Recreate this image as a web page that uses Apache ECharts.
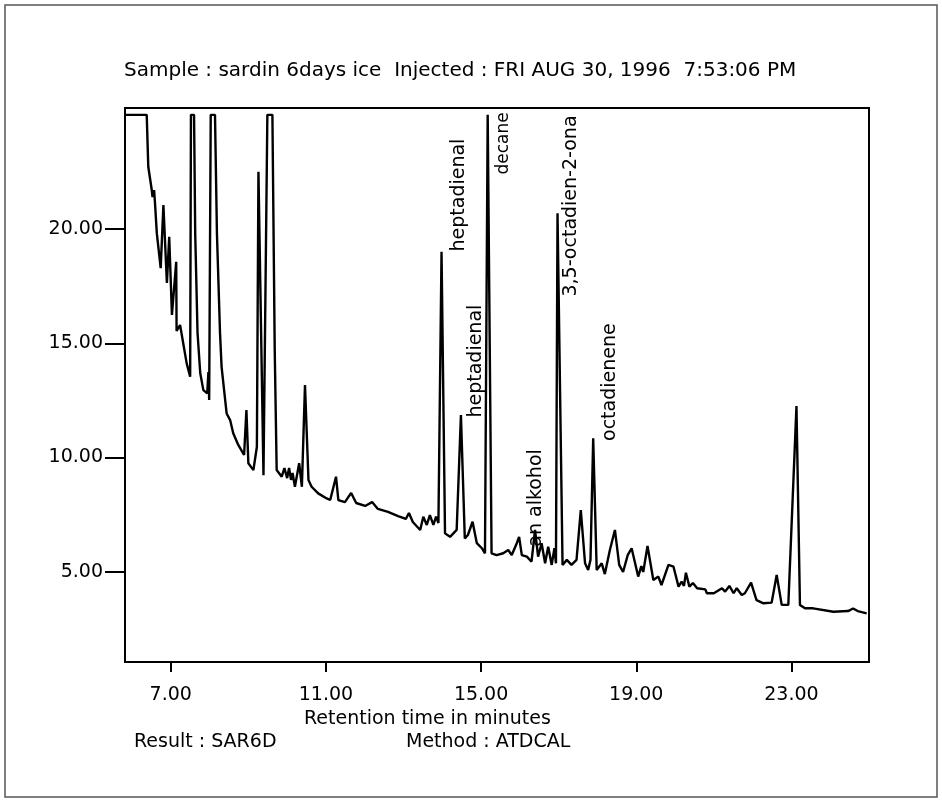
<!DOCTYPE html>
<html>
<head>
<meta charset="utf-8">
<script src="https://cdn.jsdelivr.net/npm/echarts@6/dist/echarts.min.js"></script>
<style>
html,body{margin:0;padding:0;background:#fff;}
#chart{width:942px;height:803px;}
</style>
</head>
<body>
<div id="chart"></div>
<script>
// Retention time (minutes)
const retentionTime = [
5.82,6.38,6.42,6.51,6.53,6.57,6.59,6.64,6.74,6.81,6.90,6.96,7.03,7.14,7.15,7.24,7.41,7.50,7.52,7.60,
7.63,7.69,7.76,7.84,7.94,7.97,7.99,8.03,8.14,8.19,8.27,8.31,8.44,8.53,8.61,8.74,8.89,8.95,9.00,9.13,
9.22,9.26,9.39,9.49,9.62,9.68,9.73,9.86,9.93,10.00,10.05,10.10,10.14,10.20,10.31,10.38,10.46,10.55,10.63,10.80,
11.02,11.11,11.26,11.32,11.49,11.65,11.78,12.01,12.19,12.34,12.60,12.86,13.06,13.14,13.24,13.43,13.51,13.60,13.68,13.77,
13.84,13.90,13.98,14.07,14.20,14.37,14.48,14.58,14.66,14.78,14.89,15.02,15.10,15.17,15.27,15.40,15.57,15.70,15.79,15.92,
15.98,16.05,16.18,16.30,16.39,16.47,16.56,16.65,16.73,16.82,16.89,16.93,16.97,17.10,17.21,17.33,17.46,17.57,17.68,17.76,
17.82,17.89,17.98,18.11,18.19,18.32,18.45,18.56,18.66,18.78,18.88,19.05,19.13,19.18,19.29,19.44,19.57,19.65,19.83,19.96,
20.09,20.17,20.23,20.28,20.37,20.46,20.57,20.78,20.82,21.00,21.21,21.29,21.40,21.51,21.59,21.72,21.80,21.96,22.10,22.28,
22.49,22.62,22.75,22.92,23.13,23.22,23.35,23.56,24.08,24.46,24.59,24.71,24.94
];
// Detector response
const response = [
25.0,25.0,22.73,21.71,21.40,21.71,21.23,19.82,18.29,21.05,17.64,19.66,16.24,18.57,15.54,15.80,14.12,13.54,25.0,25.0,
19.81,15.45,13.69,12.95,12.81,13.74,12.52,25.0,25.0,19.81,15.44,13.97,11.93,11.64,11.06,10.55,10.11,12.08,9.75,9.45,
10.47,22.51,9.23,25.0,25.0,14.70,9.45,9.16,9.54,9.10,9.54,9.02,9.32,8.72,9.75,8.72,13.17,9.02,8.72,8.43,
8.21,8.14,9.16,8.14,8.05,8.45,8.01,7.88,8.05,7.75,7.62,7.44,7.31,7.57,7.18,6.83,7.41,7.05,7.48,7.05,
7.41,7.13,19.01,6.68,6.53,6.83,11.86,6.46,6.61,7.19,6.25,6.03,5.81,25.0,5.81,5.73,5.81,5.95,5.73,6.25,
6.53,5.73,5.66,5.44,6.83,5.66,6.25,5.37,6.10,5.30,6.03,5.37,20.69,5.30,5.52,5.30,5.52,7.70,5.37,5.08,
5.52,10.84,5.08,5.37,4.90,5.95,6.83,5.30,4.99,5.73,6.03,4.79,5.25,4.99,6.13,4.64,4.79,4.42,5.30,5.22,
4.35,4.57,4.38,4.96,4.35,4.51,4.28,4.23,4.06,4.06,4.28,4.13,4.38,4.06,4.28,3.98,4.06,4.52,3.76,3.62,
3.65,4.86,3.55,3.55,12.25,3.55,3.40,3.40,3.25,3.28,3.39,3.28,3.18
];
// Peak annotations (label centre position in data units)
const peakNames = ["heptadienal","heptadienal","decane","an alkohol","3,5-octadien-2-ona","octadienene"];
const peakLabelX = [14.43,14.88,15.59,16.41,17.33,18.33];
const peakLabelY = [21.49,14.22,23.75,8.23,21.01,13.30];
// Tick labels
const xTicks = [7,11,15,19,23];
const yTicks = [5,10,15,20];

const FONT = "'DejaVu Sans', sans-serif";
const trace = retentionTime.map((t,i)=>[t,response[i]]);
const labels = peakNames.map((n,i)=>({value:[peakLabelX[i],peakLabelY[i]],name:n,
  label: n==='decane' ? {fontSize:17} : undefined}));

const chart = echarts.init(document.getElementById('chart'));
chart.setOption({
  backgroundColor:'#fff',
  animation:false,
  grid:{left:125,right:73,top:108,bottom:141,show:true,borderColor:'#000',borderWidth:2,backgroundColor:'transparent'},
  xAxis:{
    type:'value',min:5.82,max:25.0,
    axisLine:{show:true,lineStyle:{color:'#000',width:2}},
    axisTick:{show:true,length:10,lineStyle:{color:'#000',width:2},customValues:xTicks},
    axisLabel:{show:true,color:'#000',fontSize:19,fontFamily:FONT,margin:24,customValues:xTicks,
      formatter:v=>v.toFixed(2)},
    splitLine:{show:false}
  },
  yAxis:{
    type:'value',min:1.05,max:25.3,
    axisLine:{show:true,lineStyle:{color:'#000',width:2}},
    axisTick:{show:true,length:20,lineStyle:{color:'#000',width:2},customValues:yTicks},
    axisLabel:{show:true,color:'#000',fontSize:19,fontFamily:FONT,margin:22,customValues:yTicks,
      formatter:v=>v.toFixed(2)},
    splitLine:{show:false}
  },
  series:[
    {type:'line',data:trace,symbol:'none',clip:true,
     lineStyle:{color:'#000',width:2.4},z:3},
    {type:'scatter',data:labels,symbolSize:0,z:4,itemStyle:{opacity:1},
     label:{show:true,position:'inside',rotate:90,formatter:p=>p.name,color:'#000',opacity:1,
       fontSize:19,fontFamily:FONT,align:'center',verticalAlign:'middle'}}
  ],
  graphic:[
    {type:'rect',shape:{x:5,y:5,width:932,height:792},style:{fill:'none',stroke:'#555',lineWidth:1.5},silent:true},
    {type:'text',x:124,y:71,style:{text:'Sample : sardin 6days ice  Injected : FRI AUG 30, 1996  7:53:06 PM',
      font:'20px '+FONT,fill:'#000',textVerticalAlign:'middle',verticalAlign:'middle'}},
    {type:'text',x:304,y:719,style:{text:'Retention time in minutes',font:'19px '+FONT,fill:'#000',
      textVerticalAlign:'middle',verticalAlign:'middle'}},
    {type:'text',x:134,y:742,style:{text:'Result : SAR6D',font:'19px '+FONT,fill:'#000',
      textVerticalAlign:'middle',verticalAlign:'middle'}},
    {type:'text',x:406,y:742,style:{text:'Method : ATDCAL',font:'19px '+FONT,fill:'#000',
      textVerticalAlign:'middle',verticalAlign:'middle'}}
  ]
});
</script>
</body>
</html>
